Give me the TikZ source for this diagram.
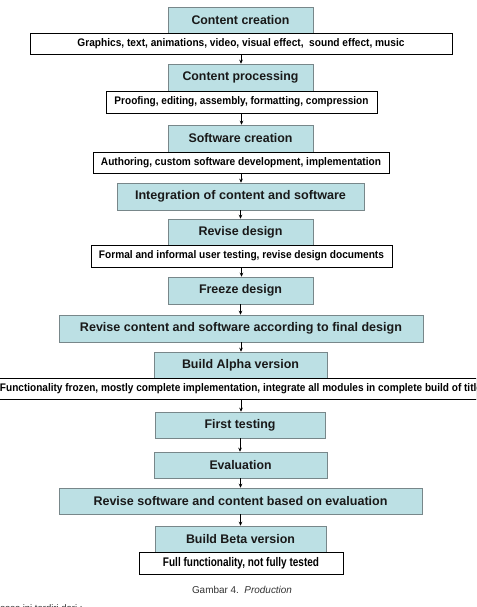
\documentclass[tikz,border=0pt]{standalone}
\usepackage{fontspec}
\setmainfont{Liberation Sans}
\usepackage{graphicx}
\usetikzlibrary{shadows,arrows.meta}
\definecolor{boxblue}{RGB}{188,224,228}
\definecolor{boxedge}{RGB}{120,135,138}
\definecolor{captext}{RGB}{50,50,50}
\newcommand\fw[2]{\resizebox{#1pt}{\height}{#2}}
\tikzset{
  bluebox/.style={draw=boxedge, line width=0.6pt, fill=boxblue, inner sep=0pt,
    font=\bfseries\fontsize{12.5}{14}\selectfont, text=black!90,
    drop shadow={shadow xshift=1.2pt, shadow yshift=-1.2pt, fill=black!70, opacity=1}},
  whitebox/.style={draw=black, line width=0.9pt, fill=white, inner sep=0pt,
    font=\bfseries\fontsize{11}{13}\selectfont, text=black,
    drop shadow={shadow xshift=0.8pt, shadow yshift=-0.8pt, fill=black!60, opacity=1}},
  flow/.style={-{Stealth[length=4pt,width=3.6pt]}, line width=0.8pt, black},
}
\begin{document}
\begin{tikzpicture}[x=1pt,y=1pt]
\clip (0,0) rectangle (476,-607);
\fill[white] (0,0) rectangle (476,-607);

\node[bluebox, minimum width=145pt, minimum height=26pt] (cc) at (240.5,-20) {\fw{98}{Content creation}};
\node[whitebox, minimum width=422pt, minimum height=21pt] (w1) at (241,-43.5) {\fw{327}{Graphics, text, animations, video, visual effect,\ \ sound effect, music}};
\node[bluebox, minimum width=145pt, minimum height=27pt] (cp) at (240.5,-77.5) {\fw{116}{Content processing}};
\node[whitebox, minimum width=271pt, minimum height=22pt] (w2) at (241.5,-102) {\fw{254}{Proofing, editing, assembly, formatting, compression}};
\node[bluebox, minimum width=145pt, minimum height=27pt] (sc) at (240.5,-138.5) {\fw{104}{Software creation}};
\node[whitebox, minimum width=296pt, minimum height=21pt] (w3) at (241,-162.5) {\fw{280}{Authoring, custom software development, implementation}};
\node[bluebox, minimum width=247pt, minimum height=27pt] (ig) at (240.5,-196.5) {\fw{211}{Integration of content and software}};
\node[bluebox, minimum width=145pt, minimum height=26pt] (rd) at (240.5,-232) {\fw{84}{Revise design}};
\node[whitebox, minimum width=301pt, minimum height=22pt] (w4) at (241.5,-256) {\fw{285}{Formal and informal user testing, revise design documents}};
\node[bluebox, minimum width=145pt, minimum height=27pt] (fd) at (240.5,-290.5) {\fw{83}{Freeze design}};
\node[bluebox, minimum width=364pt, minimum height=27pt] (rc) at (241,-328.5) {\fw{322}{Revise content and software according to final design}};
\node[bluebox, minimum width=173pt, minimum height=26pt] (ba) at (240.5,-365) {\fw{117}{Build Alpha version}};
\node[whitebox, minimum width=494pt, minimum height=21pt] (w5) at (241,-388.5) {\fw{482}{Functionality frozen, mostly complete implementation, integrate all modules in complete build of title}};
\node[bluebox, minimum width=170pt, minimum height=26pt] (ft) at (240,-425) {\fw{71}{First testing}};
\node[bluebox, minimum width=173pt, minimum height=26pt] (ev) at (240.5,-465) {\fw{62}{Evaluation}};
\node[bluebox, minimum width=363pt, minimum height=26pt] (rs) at (240.5,-501) {\fw{294}{Revise software and content based on evaluation}};
\node[bluebox, minimum width=171pt, minimum height=26pt] (bb) at (240.5,-539) {\fw{109}{Build Beta version}};
\node[whitebox, minimum width=204pt, minimum height=22pt, font=\bfseries\fontsize{12.5}{14}\selectfont] (w6) at (241,-563) {\fw{156}{Full functionality, not fully tested}};

\draw[flow] (w1.south) -- (w1.south |- cp.north);
\draw[flow] (w2.south) -- (w2.south |- sc.north);
\draw[flow] (w3.south) -- (w3.south |- ig.north);
\draw[flow] (ig.south) -- (ig.south |- rd.north);
\draw[flow] (w4.south) -- (w4.south |- fd.north);
\draw[flow] (fd.south) -- (fd.south |- rc.north);
\draw[flow] (rc.south) -- (rc.south |- ba.north);
\draw[flow] (w5.south) -- (w5.south |- ft.north);
\draw[flow] (ft.south) -- (ft.south |- ev.north);
\draw[flow] (ev.south) -- (ev.south |- rs.north);
\draw[flow] (rs.south) -- (rs.south |- bb.north);

\node[font=\fontsize{10}{12}\selectfont, text=captext, inner sep=0pt] (cap) at (242,-590) {\fw{100}{Gambar 4.\ \ \textit{Production}}};
\node[font=\fontsize{9.5}{11}\selectfont, text=captext, inner sep=0pt, anchor=base west] (bot) at (-8.5,-611) {proses ini terdiri dari :};
\end{tikzpicture}
\end{document}
